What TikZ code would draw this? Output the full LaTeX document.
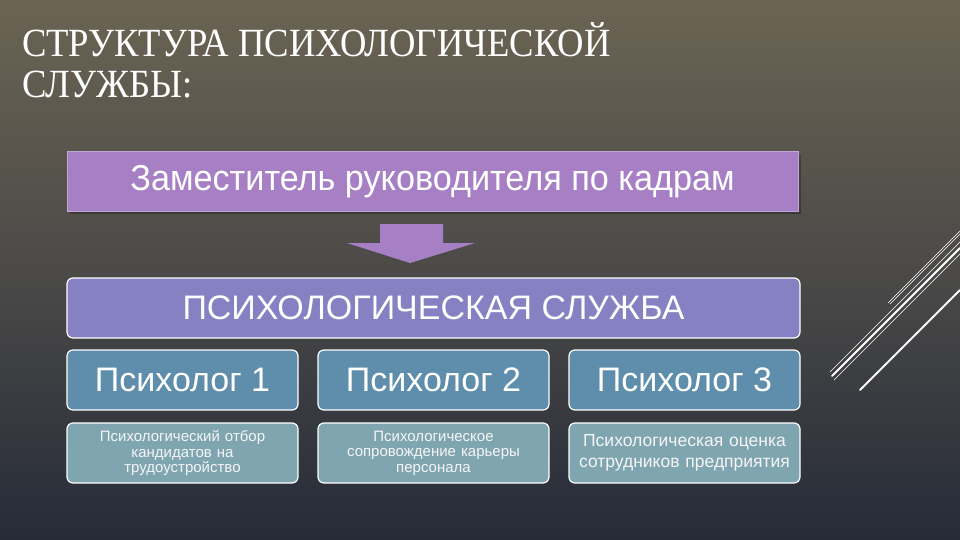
\documentclass[tikz,border=0pt]{standalone}
\usepackage{fontspec}
\setmainfont{Liberation Sans}
\newfontfamily\titlefont[FakeStretch=0.915]{Liberation Serif}
\newfontfamily\headfont[FakeStretch=0.95]{Liberation Sans}
\definecolor{bgtop}{HTML}{6B6453}
\definecolor{bgmid}{HTML}{4B4A48}
\definecolor{bgbot}{HTML}{262B38}
\definecolor{purplebox}{HTML}{A67FC4}
\definecolor{servicebox}{HTML}{8581C2}
\definecolor{psybox}{HTML}{5E8EAB}
\definecolor{descbox}{HTML}{7FA5B1}
\begin{document}
\begin{tikzpicture}[x=1pt,y=-1pt,
  titletext/.style={text=white, font=\titlefont\fontsize{40}{42}\selectfont, anchor=base west, inner sep=0pt},
  headbox/.style={draw=purplebox!70!white, line width=1pt, fill=purplebox, minimum width=731pt, minimum height=59pt, text=white, font=\headfont\fontsize{36}{38}\selectfont},
  servbox/.style={draw=white, line width=1.2pt, rounded corners=6pt, fill=servicebox, minimum width=733pt, minimum height=60pt, text=white, font=\fontsize{34}{38}\selectfont},
  psybx/.style={draw=white, line width=1.2pt, rounded corners=6pt, fill=psybox, minimum width=231pt, minimum height=60pt, text=white, font=\fontsize{34}{38}\selectfont},
  descbx/.style={draw=white, line width=1.2pt, rounded corners=6pt, fill=descbox, minimum width=231pt, minimum height=60pt, text=white!92!gray, align=center, text width=224pt, font=\fontsize{15}{15.5}\selectfont},
  deco/.style={draw=white, line cap=round}
]
\useasboundingbox (0,0) rectangle (960,540);
\shade[top color=bgtop, bottom color=bgbot, middle color=bgmid] (0,0) rectangle (960,540);

% decorative lines
\draw[deco, line width=0.6pt] (888,303) -- (960,231);
\draw[deco, line width=0.5pt] (890,304) -- (960,234);
\draw[deco, line width=2pt] (832,376) -- (960,248);
\draw[deco, line width=0.5pt] (830,372) -- (960,242);
\draw[deco, line width=0.5pt] (834,380) -- (960,254);
\draw[deco, line width=2pt] (860,390) -- (960,290);

% title
\node[titletext] (t1) at (22,57) {СТРУКТУРА ПСИХОЛОГИЧЕСКОЙ};
\node[titletext] (t2) at (22,98) {СЛУЖБЫ:};

% top box
\fill[black, opacity=0.25] (70,155) rectangle (801,214);
\node[headbox] (head) at (432.5,181.5) {Заместитель руководителя по кадрам};

% arrow
\fill[purplebox] (380,224) -- (443,224) -- (443,243) -- (475,243) -- (410,263) -- (347,243) -- (380,243) -- cycle;

% service
\node[servbox] (serv) at (433.5,308) {ПСИХОЛОГИЧЕСКАЯ СЛУЖБА};

% psychologists
\node[psybx] (p1) at (182.5,380) {Психолог 1};
\node[psybx] (p2) at (433.5,380) {Психолог 2};
\node[psybx] (p3) at (684.5,380) {Психолог 3};

% descriptions
\node[descbx] (d1) at (182.5,453) {Психологический отбор\\кандидатов на\\трудоустройство};
\node[descbx] (d2) at (433.5,453) {Психологическое\\сопровождение карьеры\\персонала};
\node[descbx, font=\fontsize{17.5}{21}\selectfont] (d3) at (684.5,453) {Психологическая оценка\\сотрудников предприятия};
\end{tikzpicture}
\end{document}
